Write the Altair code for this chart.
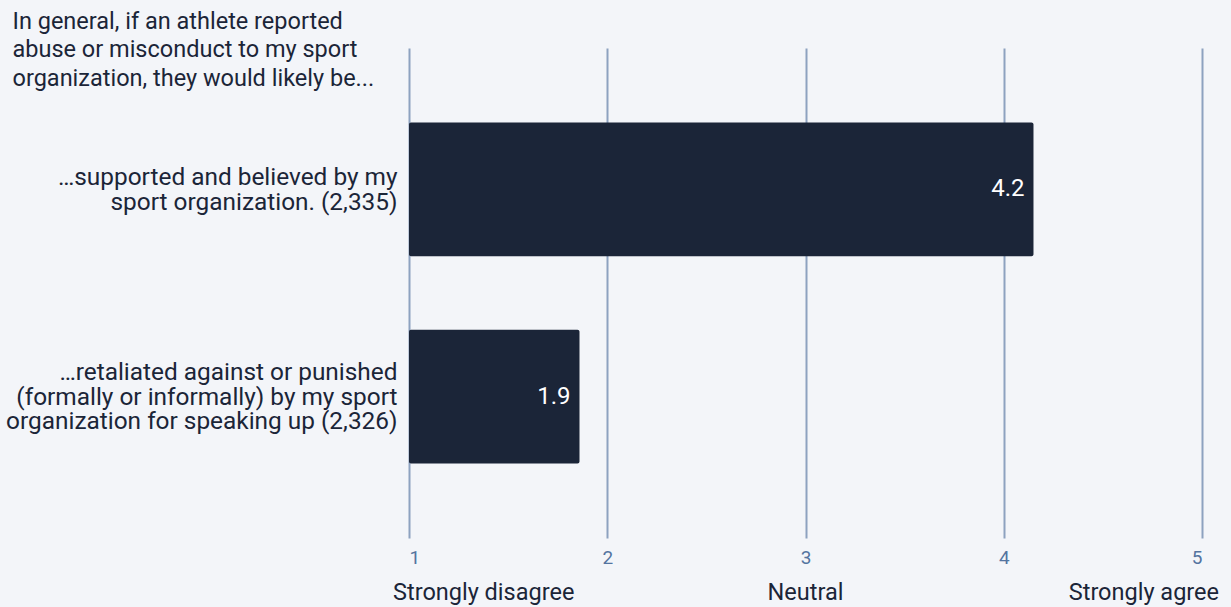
import altair as alt
import pandas as pd

# Survey statements (lines of each label) and their mean agreement scores
statements = [
    "…supported and believed by my|sport organization. (2,335)",
    "…retaliated against or punished|(formally or informally) by my sport|organization for speaking up (2,326)",
]
mean_scores = [4.15, 1.86]

# Likert scale anchors shown under the axis
anchor_labels = ["Strongly disagree", "Neutral", "Strongly agree"]
anchor_values = [1, 3, 5]

question = [
    "In general, if an athlete reported",
    "abuse or misconduct to my sport",
    "organization, they would likely be...",
]

FONT = "Roboto"
INK = "#1B2538"
GRID = "#8DA2C0"
TICK_TEXT = "#5474A0"
BG = "#F3F5F9"
TEXT_SIZE = 23.5
LABEL_SIZE = 24.4
LINE_H = 24.7

bars_df = pd.DataFrame({"statement": statements, "score": mean_scores})
anchors_df = pd.DataFrame({"label": anchor_labels, "value": anchor_values})

x_scale = alt.Scale(domain=[1, 5], nice=False, zero=False)
y_scale = alt.Scale(paddingInner=0.355, paddingOuter=0.36)

base = alt.Chart(bars_df)

# multi-line labels are drawn downward from the band centre; lift each block
# by half its extra height so it sits centred on its bar
label_offset = {
    "condition": {
        "test": "length(split(datum.value, '|')) >= 3",
        "value": -LINE_H + 1,
    },
    "value": -LINE_H / 2 + 1,
}

bars = base.mark_bar(color=INK, cornerRadius=2).encode(
    x=alt.X(
        "score:Q",
        scale=x_scale,
        axis=alt.Axis(
            values=[1, 2, 3, 4, 5],
            format="d",
            title=None,
            grid=True,
            gridColor=GRID,
            gridWidth=2,
            domain=False,
            ticks=False,
            labelPadding=10,
            labelFontSize=19,
            labelColor=TICK_TEXT,
            labelFont=FONT,
        ),
    ),
    x2=alt.datum(1),
    y=alt.Y(
        "statement:N",
        sort=statements,
        scale=y_scale,
        axis=alt.Axis(
            labelExpr="split(datum.label, '|')",
            labelFontSize=LABEL_SIZE,
            labelLineHeight=LINE_H,
            labelOffset=label_offset,
            labelColor=INK,
            labelFont=FONT,
            labelPadding=12,
            labelLimit=500,
            ticks=False,
            domain=False,
            grid=False,
            title=question,
            titleAngle=0,
            titleAlign="left",
            titleBaseline="alphabetic",
            titleX=-397,
            titleY=-20,
            titleFontSize=TEXT_SIZE,
            titleLineHeight=28.5,
            titleFontWeight="normal",
            titleColor=INK,
            titleFont=FONT,
        ),
    ),
)

values = base.mark_text(
    align="right", baseline="middle", dx=-9, color="white", fontSize=24, font=FONT
).encode(
    x=alt.X("score:Q", scale=x_scale),
    y=alt.Y("statement:N", sort=statements, scale=y_scale),
    text=alt.Text("score:Q", format=".1f"),
)


def anchor(label, align, dx):
    return (
        alt.Chart(anchors_df)
        .transform_filter(alt.datum.label == label)
        .mark_text(align=align, baseline="middle", dx=dx, color=INK, fontSize=TEXT_SIZE, font=FONT)
        .encode(
            x=alt.X("value:Q", scale=x_scale),
            y=alt.value(545),
            text="label:N",
        )
    )


anchors = anchor("Strongly disagree", "left", -16) + anchor("Neutral", "center", 0) + anchor(
    "Strongly agree", "right", 17
)

chart = (
    alt.layer(bars, values, anchors)
    .properties(
        width=793,
        height=490,
        autosize=alt.AutoSizeParams(type="none"),
        padding={"left": 409, "top": 48, "right": 29, "bottom": 69},
        background=BG,
    )
    .configure_view(stroke=None)
)

chart.save("out.html", embed_options={"renderer": "svg", "actions": False})
